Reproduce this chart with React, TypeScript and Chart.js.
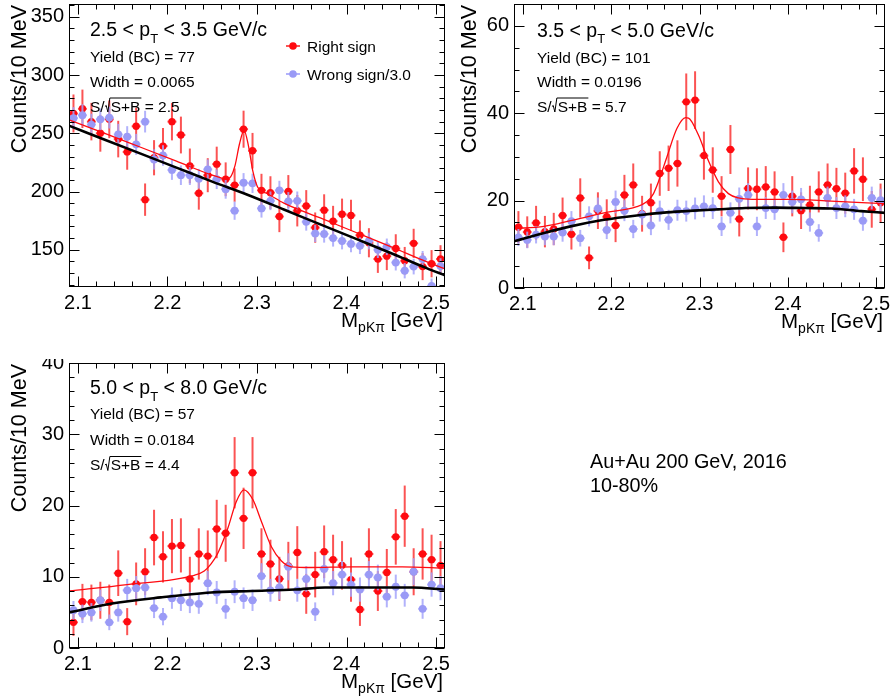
import React, { useEffect, useRef } from 'react';
import { Chart, registerables } from 'chart.js';

Chart.register(...registerables);

const FONT = '"Liberation Sans", Arial, Helvetica, sans-serif';
const RED = '#ff0a10';
const RED_BAR = 'rgba(250, 40, 40, 0.8)';
const BLUE = '#9a9af6';
const BLUE_BAR = 'rgba(165, 165, 250, 0.85)';

// ---- bin centres (GeV) ----
const massBins = [
  2.095, 2.105, 2.115, 2.125, 2.135, 2.145, 2.155, 2.165, 2.175, 2.185,
  2.195, 2.205, 2.215, 2.225, 2.235, 2.245, 2.255, 2.265, 2.275, 2.285,
  2.295, 2.305, 2.315, 2.325, 2.335, 2.345, 2.355, 2.365, 2.375, 2.385,
  2.395, 2.405, 2.415, 2.425, 2.435, 2.445, 2.455, 2.465, 2.475, 2.485,
  2.495, 2.505,
];

// ---- panel 1: 2.5 < pT < 3.5 ----
const rightSign1 = [267, 271, 260, 250, 262, 245, 234, 256, 193, 229, 239, 260, 248.5, 222, 198.5, 214, 223.5, 210.5, 205.5, 253.5, 235, 201, 199, 178.5, 200, 183.5, 187.5, 169, 184, 174.5, 180.5, 179.5, 162.5, 156, 142, 144.5, 151, 140.5, 155.5, 135.5, 138, 142];
const rightSignErr1 = [16.3, 16.5, 16.1, 15.8, 16.2, 15.7, 15.3, 16.0, 13.9, 15.1, 15.5, 16.1, 15.8, 14.9, 14.1, 14.6, 15.0, 14.5, 14.3, 15.9, 15.3, 14.2, 14.1, 13.4, 14.1, 13.5, 13.7, 13.0, 13.6, 13.2, 13.4, 13.4, 12.7, 12.5, 11.9, 12.0, 12.3, 11.9, 12.5, 11.6, 11.7, 11.9];
const wrongSign1 = [263, 265.5, 257.5, 262, 263.5, 249, 247, 240.5, 260, 227.5, 231, 218.5, 214, 214, 211, 219, 210.5, 202, 183.5, 207.5, 207, 185.5, 192, 201, 191.5, 192, 174, 164, 163.5, 160, 157.5, 155, 153.5, 157.5, 150, 152.5, 139, 132, 135.5, 142, 119, 136];
const wrongSignErr1 = [9.4, 9.4, 9.3, 9.3, 9.4, 9.1, 9.1, 9.0, 9.3, 8.7, 8.8, 8.5, 8.4, 8.4, 8.4, 8.5, 8.4, 8.2, 7.8, 8.3, 8.3, 7.9, 8.0, 8.2, 8.0, 8.0, 7.6, 7.4, 7.4, 7.3, 7.2, 7.2, 7.2, 7.2, 7.1, 7.1, 6.8, 6.6, 6.7, 6.9, 6.3, 6.7];
const bgMass1 = [2.09, 2.13, 2.17, 2.21, 2.25, 2.29, 2.33, 2.37, 2.41, 2.45, 2.49, 2.51];
const bgCounts1 = [256.5, 244.5, 232.5, 220.5, 208.5, 197, 184.5, 172, 159.5, 147, 134, 128];
const fitMass1 = [2.09, 2.13, 2.17, 2.21, 2.25, 2.2605, 2.2655, 2.2705, 2.2755, 2.2805, 2.2855, 2.2905, 2.2955, 2.3005, 2.3055, 2.3105, 2.33, 2.37, 2.41, 2.45, 2.49, 2.51];
const fitCounts1 = [261.5, 250, 238, 226, 214, 211.5, 210.5, 212.5, 222.5, 241, 252.5, 239, 217, 204, 200, 198.5, 190, 177.5, 165, 152.5, 139.5, 133.5];

// ---- panel 2: 3.5 < pT < 5.0 ----
const rightSign2 = [13.9, 12.8, 14.9, 12.9, 13.5, 16.6, 12.3, 20.6, 6.9, 17.7, 16.3, 14.3, 21.3, 23.6, 17.0, 19.5, 26.2, 27.4, 28.5, 42.6, 43.0, 30.3, 27.0, 21.0, 31.7, 15.8, 22.8, 22.6, 23.1, 22.0, 11.6, 21.0, 17.7, 19.0, 22.0, 23.6, 22.7, 21.7, 26.8, 24.9, 18.0, 19.5];
const rightSignErr2 = [3.7, 3.6, 3.9, 3.6, 3.7, 4.1, 3.5, 4.5, 2.6, 4.2, 4.0, 3.8, 4.6, 4.9, 4.1, 4.4, 5.1, 5.2, 5.3, 6.5, 6.6, 5.5, 5.2, 4.6, 5.6, 4.0, 4.8, 4.8, 4.8, 4.7, 3.4, 4.6, 4.2, 4.4, 4.7, 4.9, 4.8, 4.7, 5.2, 5.0, 4.2, 4.4];
const wrongSign2 = [11.6, 11.0, 12.2, 11.8, 11.8, 12.7, 15.3, 11.4, 16.4, 18.2, 13.3, 19.7, 17.7, 13.5, 16.8, 14.3, 17.6, 15.6, 17.8, 17.6, 18.2, 18.7, 18.3, 14.1, 17.2, 20.4, 21.3, 14.1, 18.3, 18.0, 21.3, 19.7, 20.3, 15.1, 12.6, 20.6, 18.3, 18.7, 18.0, 15.4, 20.6, 20.1];
const wrongSignErr2 = [2.0, 1.9, 2.0, 2.0, 2.0, 2.1, 2.3, 1.9, 2.3, 2.5, 2.1, 2.6, 2.4, 2.1, 2.4, 2.2, 2.4, 2.3, 2.4, 2.4, 2.5, 2.5, 2.5, 2.2, 2.4, 2.6, 2.7, 2.2, 2.5, 2.4, 2.7, 2.6, 2.6, 2.2, 2.0, 2.6, 2.5, 2.5, 2.4, 2.3, 2.6, 2.6];
const bgMass2 = [2.09, 2.124, 2.154, 2.192, 2.229, 2.263, 2.293, 2.321, 2.352, 2.385, 2.419, 2.449, 2.483, 2.51];
const bgCounts2 = [10.7, 12.6, 14.1, 15.6, 16.6, 17.3, 17.7, 18.0, 18.3, 18.4, 18.3, 18.2, 17.6, 17.2];
const fitMass2 = [2.09, 2.124, 2.154, 2.192, 2.229, 2.2406, 2.2476, 2.2538, 2.2631, 2.2744, 2.2842, 2.2876, 2.2988, 2.3101, 2.3214, 2.3327, 2.344, 2.36, 2.40, 2.449, 2.51];
const fitCounts2 = [13.6, 14.1, 15.4, 17.2, 18.6, 19.8, 21.5, 24.5, 30.0, 36.5, 39.0, 38.9, 35.0, 29.1, 24.3, 21.6, 20.6, 20.3, 20.3, 19.9, 19.3];

// ---- panel 3: 5.0 < pT < 8.0 ----
const rightSign3 = [3.6, 6.5, 6.4, 6.7, 6.4, 10.5, 3.7, 9.0, 10.7, 15.5, 12.8, 14.3, 14.4, 9.7, 13.2, 12.9, 16.7, 16.1, 24.6, 18.2, 24.6, 13.2, 11.8, 9.7, 11.5, 13.4, 7.6, 10.3, 13.5, 12.4, 11.6, 9.6, 5.4, 13.2, 8.0, 10.6, 15.6, 18.5, 10.7, 13.2, 12.4, 11.6];
const rightSignErr3 = [1.9, 2.5, 2.5, 2.6, 2.5, 3.2, 1.9, 3.0, 3.3, 3.9, 3.6, 3.8, 3.8, 3.1, 3.6, 3.6, 4.1, 4.0, 5.0, 4.3, 5.0, 3.6, 3.4, 3.1, 3.4, 3.7, 2.8, 3.2, 3.7, 3.5, 3.4, 3.1, 2.3, 3.6, 2.8, 3.3, 3.9, 4.3, 3.3, 3.6, 3.5, 3.4];
const wrongSign3 = [5.3, 4.8, 5.0, 6.7, 3.6, 5.0, 8.1, 8.4, 8.5, 5.6, 4.4, 7.0, 6.7, 6.4, 6.2, 9.1, 7.8, 5.5, 7.9, 7.0, 6.7, 10.1, 8.1, 8.5, 11.4, 8.1, 9.7, 5.1, 11.1, 9.1, 10.3, 8.9, 8.2, 10.3, 9.9, 7.2, 8.6, 7.4, 10.7, 5.5, 8.9, 8.4];
const wrongSignErr3 = [1.3, 1.3, 1.3, 1.5, 1.1, 1.3, 1.6, 1.7, 1.7, 1.4, 1.2, 1.5, 1.5, 1.5, 1.4, 1.7, 1.6, 1.4, 1.6, 1.5, 1.5, 1.8, 1.6, 1.7, 1.9, 1.6, 1.8, 1.3, 1.9, 1.7, 1.9, 1.7, 1.7, 1.9, 1.8, 1.5, 1.7, 1.6, 1.9, 1.4, 1.7, 1.7];
const bgMass3 = [2.09, 2.1363, 2.1925, 2.2487, 2.2937, 2.3422, 2.376, 2.4734, 2.51];
const bgCounts3 = [5.0, 6.2, 7.1, 7.8, 8.0, 8.2, 8.5, 8.5, 8.2];
const fitMass3 = [2.09, 2.155, 2.23, 2.2411, 2.2487, 2.2562, 2.2674, 2.2767, 2.2854, 2.2955, 2.3048, 2.3161, 2.3273, 2.3385, 2.36, 2.4059, 2.4621, 2.51];
const fitCounts3 = [8.0, 8.9, 10.2, 10.8, 11.8, 13.3, 16.8, 20.5, 22.2, 20.8, 17.8, 14.2, 12.2, 11.4, 11.3, 11.4, 11.4, 11.2];

// ---- annotation texts ----
const ptLow = ['2.5', '3.5', '5.0'];
const ptHigh = ['3.5', '5.0', '8.0'];
const yields = ['77', '101', '57'];
const widths = ['0.0065', '0.0196', '0.0184'];
const signifs = ['2.5', '5.7', '4.4'];
const legendLabels = ['Right sign', 'Wrong sign/3.0'];
const systemLines = ['Au+Au 200 GeV, 2016', '10-80%'];

type Spec = {
  idx: number;
  rs: number[]; rsErr: number[]; ws: number[]; wsErr: number[];
  bgX: number[]; bgY: number[]; fitX: number[]; fitY: number[];
  yMin: number; yMax: number; yStep: number; yMinor: number;
  yAxisWidth: number; xAxisHeight: number;
  padding: { top: number; right: number; bottom: number; left: number };
  textX: number; textY: number[];
  yTitleX: number;
  legend: boolean; system: boolean;
};

function axisSteps(min: number, max: number, minor: number, major: number) {
  const out: { v: number; major: boolean }[] = [];
  const k0 = Math.ceil(min / minor - 1e-6);
  const k1 = Math.floor(max / minor + 1e-6);
  for (let k = k0; k <= k1; k++) {
    const v = k * minor;
    const r = v / major;
    out.push({ v, major: Math.abs(r - Math.round(r)) < 1e-6 });
  }
  return out;
}

function buildChart(canvas: HTMLCanvasElement, spec: Spec) {
  const pts = (xs: number[], ys: number[]) => xs.map((x, i) => ({ x, y: ys[i] }));
  const errInfo: Record<number, { vals: number[]; errs: number[]; color: string }> = {
    2: { vals: spec.ws, errs: spec.wsErr, color: BLUE_BAR },
    3: { vals: spec.rs, errs: spec.rsErr, color: RED_BAR },
  };

  const plugin = {
    id: 'rootStyle',
    beforeDatasetDraw(chart: any, args: any) {
      const info = errInfo[args.index];
      if (!info) return;
      const { ctx, chartArea: a } = chart;
      const xs = chart.scales.x, ys = chart.scales.y;
      ctx.save();
      ctx.beginPath();
      ctx.rect(a.left, a.top, a.right - a.left, a.bottom - a.top);
      ctx.clip();
      ctx.strokeStyle = info.color;
      ctx.lineWidth = 2;
      info.vals.forEach((v, i) => {
        const m = massBins[i];
        const px = xs.getPixelForValue(m);
        const py = ys.getPixelForValue(v);
        const t = ys.getPixelForValue(v + info.errs[i]);
        const b = ys.getPixelForValue(v - info.errs[i]);
        ctx.beginPath();
        ctx.moveTo(px, t);
        ctx.lineTo(px, b);
        ctx.stroke();
        ctx.beginPath();
        ctx.moveTo(xs.getPixelForValue(m - 0.005), py);
        ctx.lineTo(xs.getPixelForValue(m + 0.005), py);
        ctx.stroke();
      });
      ctx.restore();
    },
    afterDraw(chart: any) {
      const { ctx, chartArea: a } = chart;
      const xs = chart.scales.x, ys = chart.scales.y;
      ctx.save();
      ctx.strokeStyle = '#000';
      ctx.fillStyle = '#000';
      ctx.lineWidth = 1;
      const L = Math.round(a.left) + 0.5, R = Math.round(a.right) - 0.5;
      const T = Math.round(a.top) + 0.5, B = Math.round(a.bottom) - 0.5;
      ctx.strokeRect(L, T, R - L, B - T);
      const seg = (x1: number, y1: number, x2: number, y2: number) => {
        ctx.beginPath(); ctx.moveTo(x1, y1); ctx.lineTo(x2, y2); ctx.stroke();
      };
      axisSteps(xs.min, xs.max, 0.02, 0.1).forEach(({ v, major }) => {
        const px = Math.round(xs.getPixelForValue(v)) + 0.5;
        const len = major ? 10 : 5;
        seg(px, B, px, B - len);
        seg(px, T, px, T + len);
      });
      axisSteps(ys.min, ys.max, spec.yMinor, spec.yStep).forEach(({ v, major }) => {
        const py = Math.round(ys.getPixelForValue(v)) + 0.5;
        const len = major ? 10 : 5;
        seg(L, py, L + len, py);
        seg(R, py, R - len, py);
      });

      // y title
      ctx.save();
      ctx.translate(spec.yTitleX, a.top + 1);
      ctx.rotate(-Math.PI / 2);
      ctx.font = `21.5px ${FONT}`;
      ctx.textAlign = 'right';
      ctx.textBaseline = 'alphabetic';
      ctx.fillText('Counts/10 MeV', 0, 0);
      ctx.restore();

      // x title
      ctx.textAlign = 'left';
      ctx.textBaseline = 'alphabetic';
      ctx.font = `20.5px ${FONT}`;
      const mW = ctx.measureText('M').width;
      const restW = ctx.measureText(' [GeV]').width;
      ctx.font = `14px ${FONT}`;
      const subW = ctx.measureText('pK\u03c0').width;
      const xb = a.bottom + 40;
      const x0 = a.right - 2 - (mW + subW + restW);
      ctx.font = `20.5px ${FONT}`;
      ctx.fillText('M', x0, xb);
      ctx.fillText(' [GeV]', x0 + mW + subW, xb);
      ctx.font = `14px ${FONT}`;
      ctx.fillText('pK\u03c0', x0 + mW, xb + 5);

      // annotations
      const i = spec.idx;
      const tx = spec.textX;
      ctx.font = `19.5px ${FONT}`;
      const head = `${ptLow[i]} < p`;
      ctx.fillText(head, tx, spec.textY[0]);
      let cx = tx + ctx.measureText(head).width;
      ctx.font = `13px ${FONT}`;
      ctx.fillText('T', cx, spec.textY[0] + 6.5);
      cx += ctx.measureText('T').width;
      ctx.font = `19.5px ${FONT}`;
      ctx.fillText(` < ${ptHigh[i]} GeV/c`, cx, spec.textY[0]);

      ctx.font = `15.5px ${FONT}`;
      ctx.fillText(`Yield (BC) = ${yields[i]}`, tx, spec.textY[1]);
      ctx.fillText(`Width = ${widths[i]}`, tx, spec.textY[2]);
      const sy = spec.textY[3];
      ctx.fillText('S/', tx, sy);
      const rx = tx + ctx.measureText('S/').width;
      const sbW = ctx.measureText('S+B').width;
      ctx.beginPath();
      ctx.moveTo(rx + 0.3, sy - 5);
      ctx.lineTo(rx + 1.6, sy - 6);
      ctx.lineTo(rx + 3.2, sy + 0.5);
      ctx.lineTo(rx + 5.2, sy - 13.5);
      ctx.lineTo(rx + 6 + sbW + 1, sy - 13.5);
      ctx.lineWidth = 1;
      ctx.stroke();
      ctx.fillText('S+B', rx + 6, sy);
      ctx.fillText(` = ${signifs[i]}`, rx + 6 + sbW, sy);

      if (spec.legend) {
        const item = (cy: number, col: string, bar: string, label: string) => {
          ctx.strokeStyle = bar;
          ctx.lineWidth = 2;
          seg(286, cy, 300, cy);
          ctx.fillStyle = col;
          ctx.beginPath();
          ctx.arc(293, cy, 3.8, 0, Math.PI * 2);
          ctx.fill();
          ctx.fillStyle = '#000';
          ctx.font = `15.5px ${FONT}`;
          ctx.fillText(label, 307, cy + 5.5);
        };
        item(46, RED, RED_BAR, legendLabels[0]);
        item(74, BLUE, BLUE_BAR, legendLabels[1]);
      }
      if (spec.system) {
        ctx.fillStyle = '#000';
        ctx.font = `19.8px ${FONT}`;
        ctx.fillText(systemLines[0], 590, 109);
        ctx.fillText(systemLines[1], 590, 133);
      }
      ctx.restore();
    },
  };

  const tickFont = { family: FONT, size: 20 };
  return new Chart(canvas, {
    type: 'scatter',
    data: {
      datasets: [
        { data: pts(spec.bgX, spec.bgY), showLine: true, borderColor: '#000', borderWidth: 2.6, pointRadius: 0, cubicInterpolationMode: 'monotone', order: 0 } as any,
        { data: pts(spec.fitX, spec.fitY), showLine: true, borderColor: RED, borderWidth: 1.3, pointRadius: 0, cubicInterpolationMode: 'monotone', order: 1 } as any,
        { data: pts(massBins, spec.ws), pointRadius: 3.9, backgroundColor: BLUE, borderWidth: 0, order: 2 } as any,
        { data: pts(massBins, spec.rs), pointRadius: 3.7, backgroundColor: RED, borderWidth: 0, order: 3 } as any,
      ],
    },
    options: {
      responsive: false,
      animation: false,
      devicePixelRatio: 1,
      events: [],
      layout: { padding: spec.padding },
      plugins: { legend: { display: false }, tooltip: { enabled: false } },
      scales: {
        x: {
          type: 'linear', min: 2.09, max: 2.51,
          ticks: {
            stepSize: 0.1, includeBounds: false, autoSkip: false, maxRotation: 0, minRotation: 0,
            padding: 4, color: '#000', font: tickFont,
            callback: (v: any) => Number(v).toFixed(1),
          },
          grid: { display: false, drawTicks: false },
          border: { display: false },
          afterFit: (s: any) => { s.height = spec.xAxisHeight; s.paddingLeft = 0; s.paddingRight = 0; },
        },
        y: {
          type: 'linear', min: spec.yMin, max: spec.yMax,
          ticks: {
            stepSize: spec.yStep, includeBounds: false, autoSkip: false,
            padding: 5, color: '#000', font: tickFont,
            callback: (v: any) => String(Math.round(Number(v))),
          },
          grid: { display: false, drawTicks: false },
          border: { display: false },
          afterFit: (s: any) => { s.width = spec.yAxisWidth; s.paddingTop = 0; s.paddingBottom = 0; },
        },
      },
    } as any,
    plugins: [plugin],
  });
}

const specs: Spec[] = [
  {
    idx: 0, rs: rightSign1, rsErr: rightSignErr1, ws: wrongSign1, wsErr: wrongSignErr1,
    bgX: bgMass1, bgY: bgCounts1, fitX: fitMass1, fitY: fitCounts1,
    yMin: 118, yMax: 361, yStep: 50, yMinor: 10,
    yAxisWidth: 69, xAxisHeight: 53, padding: { top: 4, right: 5, bottom: 0, left: 0 },
    textX: 90, textY: [36, 62, 87, 111.5], yTitleX: 25.5, legend: true, system: false,
  },
  {
    idx: 1, rs: rightSign2, rsErr: rightSignErr2, ws: wrongSign2, wsErr: wrongSignErr2,
    bgX: bgMass2, bgY: bgCounts2, fitX: fitMass2, fitY: fitCounts2,
    yMin: 0, yMax: 65, yStep: 20, yMinor: 5,
    yAxisWidth: 64, xAxisHeight: 52, padding: { top: 4, right: 6, bottom: 0, left: 0 },
    textX: 87, textY: [36.5, 63, 87, 111.5], yTitleX: 25.5, legend: false, system: false,
  },
  {
    idx: 2, rs: rightSign3, rsErr: rightSignErr3, ws: wrongSign3, wsErr: wrongSignErr3,
    bgX: bgMass3, bgY: bgCounts3, fitX: fitMass3, fitY: fitCounts3,
    yMin: 0, yMax: 40, yStep: 10, yMinor: 2,
    yAxisWidth: 69, xAxisHeight: 52, padding: { top: 2, right: 446, bottom: 0, left: 0 },
    textX: 90, textY: [35, 60, 86, 111], yTitleX: 25.5, legend: false, system: true,
  },
];

function Panel({ spec, left, top, width, height }: { spec: Spec; left: number; top: number; width: number; height: number }) {
  const ref = useRef<HTMLCanvasElement>(null);
  useEffect(() => {
    const chart = buildChart(ref.current as HTMLCanvasElement, spec);
    return () => chart.destroy();
  }, []);
  return (
    <canvas
      ref={ref}
      width={width}
      height={height}
      style={{ position: 'absolute', left, top, width, height, display: 'block' }}
    />
  );
}

export default function App() {
  return (
    <div style={{ position: 'absolute', left: 0, top: 0, width: 891, height: 700, background: '#fff', overflow: 'hidden' }}>
      <Panel spec={specs[0]} left={0} top={0} width={450} height={340} />
      <Panel spec={specs[1]} left={450} top={0} width={441} height={340} />
      <Panel spec={specs[2]} left={0} top={359} width={891} height={341} />
    </div>
  );
}
